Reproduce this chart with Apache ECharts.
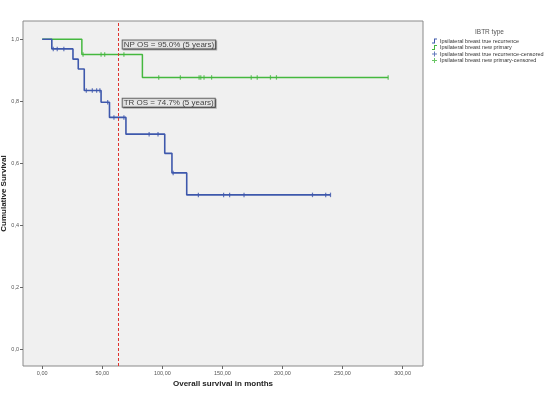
<!DOCTYPE html>
<html>
<head>
<meta charset="utf-8">
<title>IBTR type survival</title>
<script src="https://cdn.jsdelivr.net/npm/echarts@6/dist/echarts.min.js"></script>
<style>
    body { margin: 0; padding: 0; background: #fff; }
    #chart { width: 551px; height: 394px; }
</style>
</head>
<body>
<div id="chart"></div>
<script type="text/javascript">
// Kaplan-Meier steps (months, cumulative survival)
var trTimes = [0, 8, 25.6, 30, 35, 49, 56, 69.7, 102, 108, 120.3, 240];
var trSurv  = [1.0, 0.969, 0.936, 0.904, 0.835, 0.797, 0.748, 0.694, 0.632, 0.569, 0.498, 0.498];
var npTimes = [0, 33, 83.4, 288];
var npSurv  = [1.0, 0.951, 0.877, 0.877];
// censored cases
var trCensored = [9.2, 12.5, 18, 36.7, 41.7, 45.3, 48, 54.5, 59.7, 68, 89, 96.4, 109, 130, 151, 156, 168, 225, 236, 240];
var npCensored = [34, 49, 52, 68, 97, 115, 130.6, 132, 134.7, 141, 174, 179, 190, 195, 288];

var xTicks = [0, 50, 100, 150, 200, 250, 300];
var yTicks = [0, 0.2, 0.4, 0.6, 0.8, 1.0];
var cutoff = 63;   // 5 year line
var notes = [
    {text: 'NP OS = 95.0% (5 years)', at: [67, 0.983]},
    {text: 'TR OS = 74.7% (5 years)', at: [67, 0.795]}
];

var names = ['Ipsilateral breast true recurrence', 'Ipsilateral breast new primary',
    'Ipsilateral breast true recurrence-censored', 'Ipsilateral breast new primary-censored'];
var blue = '#3e58ac', green = '#45b83f';

function pairs(xs, ys) {
    return xs.map(function (x, i) { return [x, ys[i]]; });
}
function survAt(xs, ys, t) {
    var v = ys[0];
    for (var i = 0; i < xs.length; i++) { if (xs[i] <= t) v = ys[i]; }
    return v;
}
function censorPts(cs, xs, ys) {
    return cs.map(function (t) { return [t, survAt(xs, ys, t)]; });
}

var stepIcon = 'path://M0,8 L4,8 L4,0 L10,0 L10,2 L6,2 L6,10 L0,10 Z';
var plusIcon = 'path://M4,0 L6,0 L6,4 L10,4 L10,6 L6,6 L6,10 L4,10 L4,6 L0,6 L0,4 L4,4 Z';

var option = {
    backgroundColor: '#fff',
    animation: false,
    title: {
        text: 'IBTR type',
        left: 470, top: 24,
        textStyle: {fontSize: 6.5, fontWeight: 'normal', color: '#555', fontFamily: 'Liberation Sans'}
    },
    legend: {
        orient: 'vertical',
        left: 427, top: 33,
        itemWidth: 9, itemHeight: 5, itemGap: 0.5,
        textStyle: {fontSize: 5.5, color: '#333', fontFamily: 'Liberation Sans', padding: [0, 0, 0, -4]},
        data: [
            {name: names[0], icon: stepIcon},
            {name: names[1], icon: stepIcon},
            {name: names[2], icon: plusIcon},
            {name: names[3], icon: plusIcon}
        ]
    },
    grid: {
        left: 23, top: 21, right: 128, bottom: 28,
        containLabel: false, outerBoundsMode: 'none',
        show: true, backgroundColor: '#f0f0f0', borderColor: '#8a8a8a', borderWidth: 1
    },
    xAxis: {
        type: 'value', min: -16, max: 317,
        name: 'Overall survival in months', nameLocation: 'middle', nameGap: 14, nameMoveOverlap: false,
        nameTextStyle: {fontSize: 8, fontWeight: 'bold', color: '#222', fontFamily: 'Liberation Sans'},
        axisLine: {show: false, onZero: false},
        axisTick: {show: true, customValues: xTicks, length: 3, lineStyle: {color: '#666'}},
        axisLabel: {
            customValues: xTicks, fontSize: 5.5, color: '#555', margin: 4, fontFamily: 'Liberation Sans',
            formatter: function (v) { return v.toFixed(2).replace('.', ','); }
        },
        splitLine: {show: false}
    },
    yAxis: {
        type: 'value', min: -0.054, max: 1.059,
        name: 'Cumulative Survival', nameLocation: 'middle', nameGap: 15, nameRotate: 90, nameMoveOverlap: false,
        nameTextStyle: {fontSize: 8, fontWeight: 'bold', color: '#222', fontFamily: 'Liberation Sans'},
        axisLine: {show: false, onZero: false},
        axisTick: {show: true, customValues: yTicks, length: 3, lineStyle: {color: '#666'}},
        axisLabel: {
            customValues: yTicks, fontSize: 5.5, color: '#555', margin: 4, fontFamily: 'Liberation Sans',
            formatter: function (v) { return v.toFixed(1).replace('.', ','); }
        },
        splitLine: {show: false}
    },
    series: [
        {
            name: names[0], type: 'line', step: 'end', data: pairs(trTimes, trSurv),
            showSymbol: false, color: blue, lineStyle: {width: 1.6, color: blue},
            markLine: {
                silent: true, symbol: 'none', label: {show: false},
                lineStyle: {color: '#e0322d', type: [3, 2], width: 1},
                data: [{xAxis: cutoff}]
            },
            z: 3
        },
        {
            name: names[1], type: 'line', step: 'end', data: pairs(npTimes, npSurv),
            showSymbol: false, color: green, lineStyle: {width: 1.5, color: green}, z: 2
        },
        {
            name: names[2], type: 'scatter', data: censorPts(trCensored, trTimes, trSurv),
            symbol: 'rect', symbolSize: [1.2, 4.5], color: blue, itemStyle: {color: blue}, z: 4
        },
        {
            name: names[3], type: 'scatter', data: censorPts(npCensored, npTimes, npSurv),
            symbol: 'rect', symbolSize: [1.2, 4.5], color: green, itemStyle: {color: green}, z: 4
        },
        {
            name: 'notes', type: 'scatter', silent: true, symbolSize: 0, z: 5,
            data: notes.map(function (n) { return {value: n.at, label: {formatter: n.text}}; }),
            label: {
                show: true, position: 'right', distance: 0,
                fontSize: 8, color: '#111', fontFamily: 'Liberation Sans',
                backgroundColor: '#f6f6f6', borderColor: '#444', borderWidth: 1,
                padding: [0, 1, 0, 1],
                shadowColor: 'rgba(0,0,0,0.35)', shadowOffsetX: 1, shadowOffsetY: 1, shadowBlur: 0
            }
        }
    ]
};

var myChart = echarts.init(document.getElementById('chart'));
myChart.setOption(option);
</script>
</body>
</html>
